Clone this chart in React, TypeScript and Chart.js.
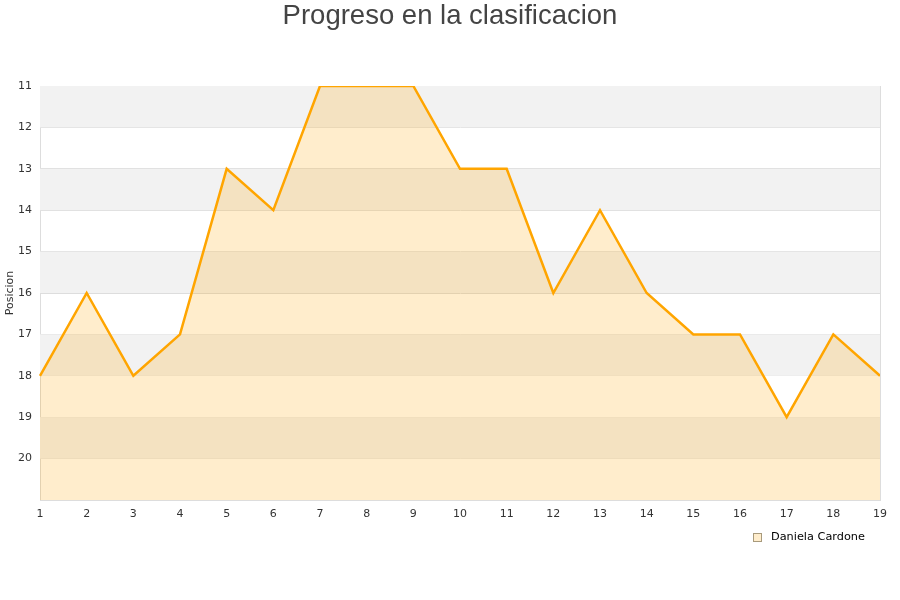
import React, { useEffect, useRef } from "react";
import { Chart, registerables } from "chart.js";

Chart.register(...registerables);

const jornadas = ["1","2","3","4","5","6","7","8","9","10","11","12","13","14","15","16","17","18","19"];
const posiciones = [18, 16, 18, 17, 13, 14, 11, 11, 11, 13, 13, 16, 14, 16, 17, 17, 19, 17, 18];
const seriesName = "Daniela Cardone";
const chartTitle = "Progreso en la clasificacion";
const yTitle = "Posicion";
const yMin = 11;
const yMax = 21;

const bandsPlugin = {
  id: "bands",
  beforeDatasetsDraw(chart: any) {
    const { ctx, chartArea, scales } = chart;
    const y = scales.y;
    ctx.save();
    for (let v = yMin; v < yMax; v++) {
      if ((v - yMin) % 2 === 0) {
        const p1 = y.getPixelForValue(v);
        const p2 = y.getPixelForValue(v + 1);
        ctx.fillStyle = "#f2f2f2";
        ctx.fillRect(chartArea.left, Math.min(p1, p2), chartArea.right - chartArea.left, Math.abs(p2 - p1));
      }
    }
    ctx.restore();
  },
};

const decorPlugin = {
  id: "decor",
  afterDraw(chart: any) {
    const { ctx, chartArea, width } = chart;
    ctx.save();
    // right border
    ctx.strokeStyle = "#ddd";
    ctx.lineWidth = 1;
    ctx.beginPath();
    ctx.moveTo(chartArea.right + 0.5, chartArea.top);
    ctx.lineTo(chartArea.right + 0.5, chartArea.bottom);
    ctx.stroke();
    // title
    ctx.fillStyle = "#444";
    ctx.font = "27.5px 'Liberation Sans', Arial, sans-serif";
    ctx.textAlign = "center";
    ctx.textBaseline = "middle";
    ctx.fillText(chartTitle, width / 2, 16);
    // legend
    const lx = 753;
    const ly = 533;
    ctx.fillStyle = "#ffedcc";
    ctx.fillRect(lx, ly, 8, 8);
    ctx.strokeStyle = "#a89a7c";
    ctx.strokeRect(lx + 0.5, ly + 0.5, 8, 8);
    ctx.fillStyle = "#000";
    ctx.font = "11.3px 'DejaVu Sans', sans-serif";
    ctx.textAlign = "left";
    ctx.fillText(seriesName, 771, 537.5);
    ctx.restore();
  },
};

export default function App() {
  const ref = useRef<HTMLCanvasElement>(null);
  useEffect(() => {
    if (!ref.current) return;
    const chart = new Chart(ref.current, {
      type: "line",
      data: {
        labels: jornadas,
        datasets: [
          {
            label: seriesName,
            data: posiciones,
            borderColor: "#ffa500",
            backgroundColor: "rgba(255,165,0,0.2)",
            borderWidth: 2.5,
            fill: "start",
            pointRadius: 0,
            tension: 0,
          },
        ],
      },
      options: {
        animation: false,
        responsive: false,
        layout: { padding: { top: 86, right: 20, bottom: 70, left: 0 } },
        plugins: {
          title: { display: false },
          legend: { display: false },
          tooltip: { enabled: false },
        },
        scales: {
          x: {
            type: "category",
            offset: false,
            grid: { display: false, drawTicks: false },
            border: { color: "#ddd" },
            ticks: {
              color: "#333",
              font: { family: "DejaVu Sans", size: 11 },
              padding: 8,
              maxRotation: 0,
              autoSkip: false,
            },
            afterFit: (s: any) => {
              s.height = 30;
            },
          },
          y: {
            reverse: true,
            min: yMin,
            max: yMax,
            grid: { color: "#dddddd", drawTicks: false },
            border: { color: "#ddd" },
            title: {
              display: true,
              text: yTitle,
              color: "#333",
              font: { family: "DejaVu Sans", size: 11 },
              padding: { top: 4, bottom: 0 },
            },
            ticks: {
              stepSize: 1,
              color: "#333",
              font: { family: "DejaVu Sans", size: 11 },
              padding: 8,
              callback: (v: any) => (v >= yMax ? "" : String(v)),
            },
            afterFit: (s: any) => {
              s.width = 40;
            },
          },
        },
      },
      plugins: [bandsPlugin, decorPlugin],
    });
    return () => chart.destroy();
  }, []);
  return (
    <div style={{ position: "fixed", left: 0, top: 0, width: 900, height: 600, background: "#fff" }}>
      <canvas ref={ref} width={900} height={600} style={{ width: 900, height: 600 }} />
    </div>
  );
}
